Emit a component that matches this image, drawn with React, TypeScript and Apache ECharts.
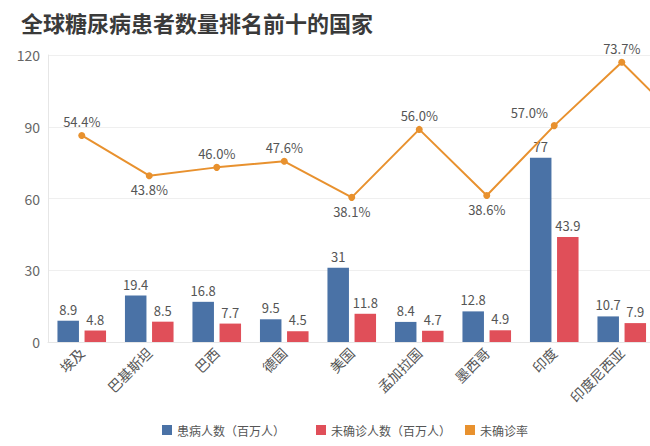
import React, { useEffect, useRef } from "react";
import * as echarts from "echarts";

const categories = ["埃及", "巴基斯坦", "巴西", "德国", "美国", "孟加拉国", "墨西哥", "印度", "印度尼西亚", "中国"];
const patients = [8.9, 19.4, 16.8, 9.5, 31, 8.4, 12.8, 77, 10.7, 116.4];
const undiagnosed = [4.8, 8.5, 7.7, 4.5, 11.8, 4.7, 4.9, 43.9, 7.9, 65.2];
const undiagnosedRate = [54.4, 43.8, 46.0, 47.6, 38.1, 56.0, 38.6, 57.0, 73.7, 56.0];
const rateLabelPos = ["top", "bottom", "top", "top", "bottom", "top", "bottom", "topleft", "top", "top"];
const yTicks = [0, 30, 60, 90, 120];
const seriesNames = ["患病人数（百万人）", "未确诊人数（百万人）", "未确诊率"];

const FONT = "'Noto Sans CJK SC', 'Noto Sans', sans-serif";

export default function App() {
  const ref = useRef<HTMLDivElement>(null);
  useEffect(() => {
    if (!ref.current) return;
    const chart = echarts.init(ref.current, undefined, { renderer: "svg" });
    const lineData = undiagnosedRate.map((v, i) => {
      const p = rateLabelPos[i];
      if (p === "topleft") {
        return { value: v, label: { position: "top", offset: [-25, 1] } };
      }
      return { value: v, label: { position: p } };
    });
    const legendLefts = [157, 311, 460];
    const legends = seriesNames.map((n, i) => ({
      left: legendLefts[i],
      top: 419,
      itemWidth: 10,
      itemHeight: 10,
      icon: "rect",
      textStyle: { fontSize: 12, color: "#555", fontFamily: FONT },
      data: [n],
    }));
    chart.setOption({
      animation: false,
      backgroundColor: "#ffffff",
      textStyle: { fontFamily: FONT },
      title: {
        text: "全球糖尿病患者数量排名前十的国家",
        left: 16,
        top: 6,
        textStyle: { fontSize: 22, fontWeight: "bold", color: "#3a3a3a", fontFamily: FONT },
      },
      legend: legends,
      grid: { left: 48, top: 55, right: 7, bottom: 104, containLabel: false },
      xAxis: {
        type: "category",
        data: categories,
        axisLine: { show: true, lineStyle: { color: "#e6e6e6" } },
        axisTick: { show: false },
        axisLabel: { rotate: 45, fontSize: 14, color: "#555", margin: 8, interval: 0, fontFamily: FONT },
      },
      yAxis: [
        {
          type: "value",
          min: yTicks[0],
          max: yTicks[yTicks.length - 1],
          interval: yTicks[1] - yTicks[0],
          axisLine: { show: true, lineStyle: { color: "#e6e6e6" } },
          axisTick: { show: false },
          axisLabel: { fontSize: 14, color: "#666", margin: 8, fontFamily: FONT },
          splitLine: { lineStyle: { color: "#efefef" } },
        },
        {
          type: "value",
          min: 0,
          max: 75.6,
          show: false,
          splitLine: { show: false },
        },
      ],
      series: [
        {
          name: seriesNames[0],
          type: "bar",
          data: patients,
          barWidth: 21.5,
          barGap: "26%",
          itemStyle: { color: "#4a72a6" },
          label: { show: true, position: "top", fontSize: 13, color: "#555", fontFamily: FONT },
        },
        {
          name: seriesNames[1],
          type: "bar",
          data: undiagnosed,
          barWidth: 21.5,
          barGap: "26%",
          itemStyle: { color: "#e04f59" },
          label: { show: true, position: "top", fontSize: 13, color: "#555", fontFamily: FONT },
        },
        {
          name: seriesNames[2],
          type: "line",
          yAxisIndex: 1,
          data: lineData,
          symbol: "circle",
          symbolSize: 7,
          z: 5,
          lineStyle: { color: "#e8912e", width: 2 },
          itemStyle: { color: "#e8912e" },
          label: {
            show: true,
            fontSize: 13,
            color: "#555",
            fontFamily: FONT,
            distance: 4,
            formatter: (p: any) => Number(p.value).toFixed(1) + "%",
          },
        },
      ],
    });
    return () => chart.dispose();
  }, []);
  return (
    <div style={{ position: "fixed", left: 0, top: 0, width: 650, height: 446, overflow: "hidden", background: "#fff" }}>
      <div ref={ref} style={{ width: 730, height: 446 }} />
    </div>
  );
}
